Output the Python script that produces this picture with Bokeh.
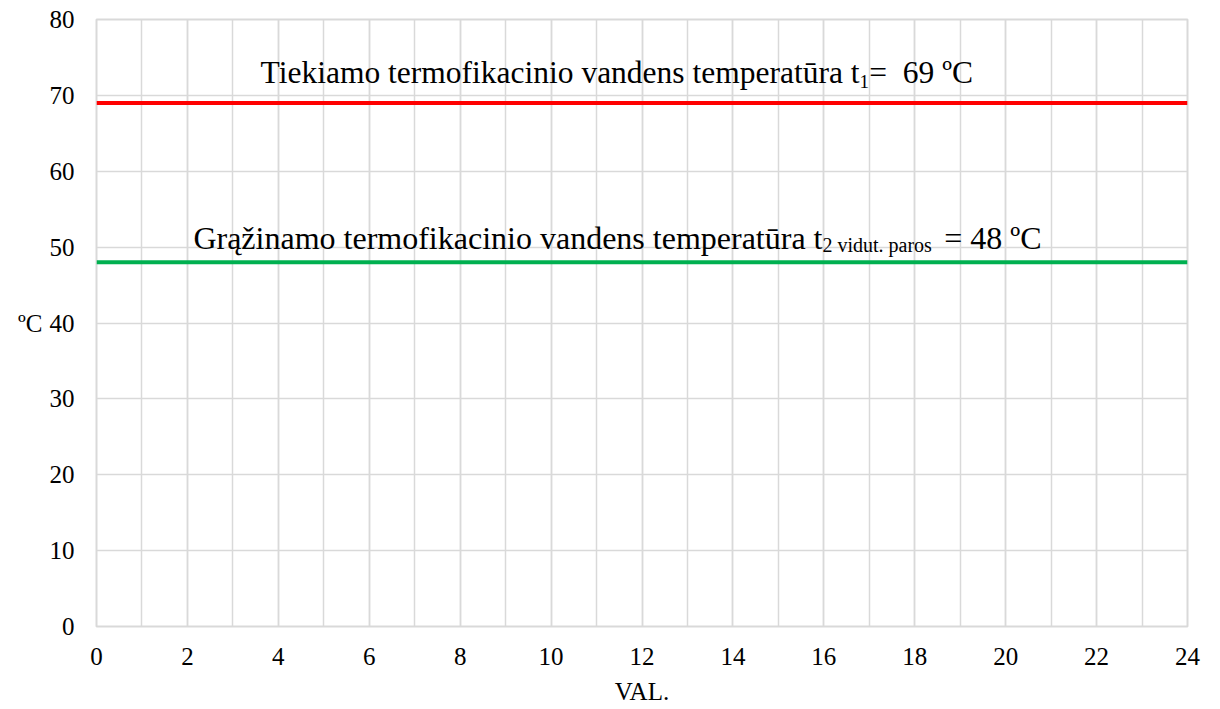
from bokeh.plotting import figure
from bokeh.models import FixedTicker, Range1d
from bokeh.core.properties import value
from bokeh.embed import file_html
from bokeh.resources import INLINE

# ---- data ----
hours = [0, 24]
supply_temp = [69, 69]      # t1
return_temp = [48, 48]      # t2 vidut. paros
x_ticks = [0, 2, 4, 6, 8, 10, 12, 14, 16, 18, 20, 22, 24]
x_minor = list(range(0, 25))
y_ticks = [0, 10, 20, 30, 40, 50, 60, 70, 80]

FONT = "Liberation Serif"

p = figure(width=1211, height=708, output_backend="svg", toolbar_location=None,
           x_range=Range1d(0, 24), y_range=Range1d(0, 80),
           min_border_left=96, min_border_right=24, min_border_top=19, min_border_bottom=82)
p.background_fill_color = "white"
p.border_fill_color = "white"
p.outline_line_color = "#d9d9d9"
p.outline_line_width = 2

# axes
p.xaxis.ticker = FixedTicker(ticks=x_ticks, minor_ticks=x_minor)
p.yaxis.ticker = FixedTicker(ticks=y_ticks)
for ax in (p.xaxis, p.yaxis):
    ax.axis_line_color = None
    ax.major_tick_line_color = None
    ax.minor_tick_line_color = None
    ax.major_label_text_font = FONT
    ax.major_label_text_font_size = "25px"
    ax.major_label_text_color = "black"
    ax.axis_label_text_font = FONT
    ax.axis_label_text_font_size = "25px"
    ax.axis_label_text_font_style = "normal"
    ax.axis_label_text_color = "black"
p.xaxis.major_label_standoff = 15
p.yaxis.major_label_standoff = 16
p.xaxis.axis_label = "VAL."
p.xaxis.axis_label_standoff = 10
p.yaxis.axis_label = "ºC"
p.yaxis.axis_label_standoff = 4
p.yaxis.axis_label_orientation = "horizontal"

# grid
p.xgrid.grid_line_color = "#d9d9d9"
p.xgrid.grid_line_width = 1.5
p.xgrid.minor_grid_line_color = "#d9d9d9"
p.xgrid.minor_grid_line_width = 1.5
p.ygrid.grid_line_color = "#d9d9d9"
p.ygrid.grid_line_width = 1.5

# lines
p.line(hours, supply_temp, line_color="#ff0000", line_width=4)
p.line(hours, return_temp, line_color="#00b050", line_width=4)

# annotations
def lab(x, y, t, size, align="left"):
    p.text(x=[x], y=[y], text=[t], text_font=value(FONT), text_font_size=value(size),
           text_color="black", text_align=align, text_baseline="alphabetic")

lab(16.785, 73.0, "Tiekiamo termofikacinio vandens temperatūra t", "31.5px", "right")
lab(16.785, 71.82, "1", "19px")
lab(17.0, 73.0, "=\u00a0 69 ºC", "31.5px")

lab(15.97, 51.22, "Grąžinamo termofikacinio vandens temperatūra t", "32px", "right")
lab(15.97, 50.30, "2 vidut. paros", "20px")
lab(18.65, 51.22, "= 48 ºC", "32px")

open("out.html", "w").write(file_html(p, INLINE))
